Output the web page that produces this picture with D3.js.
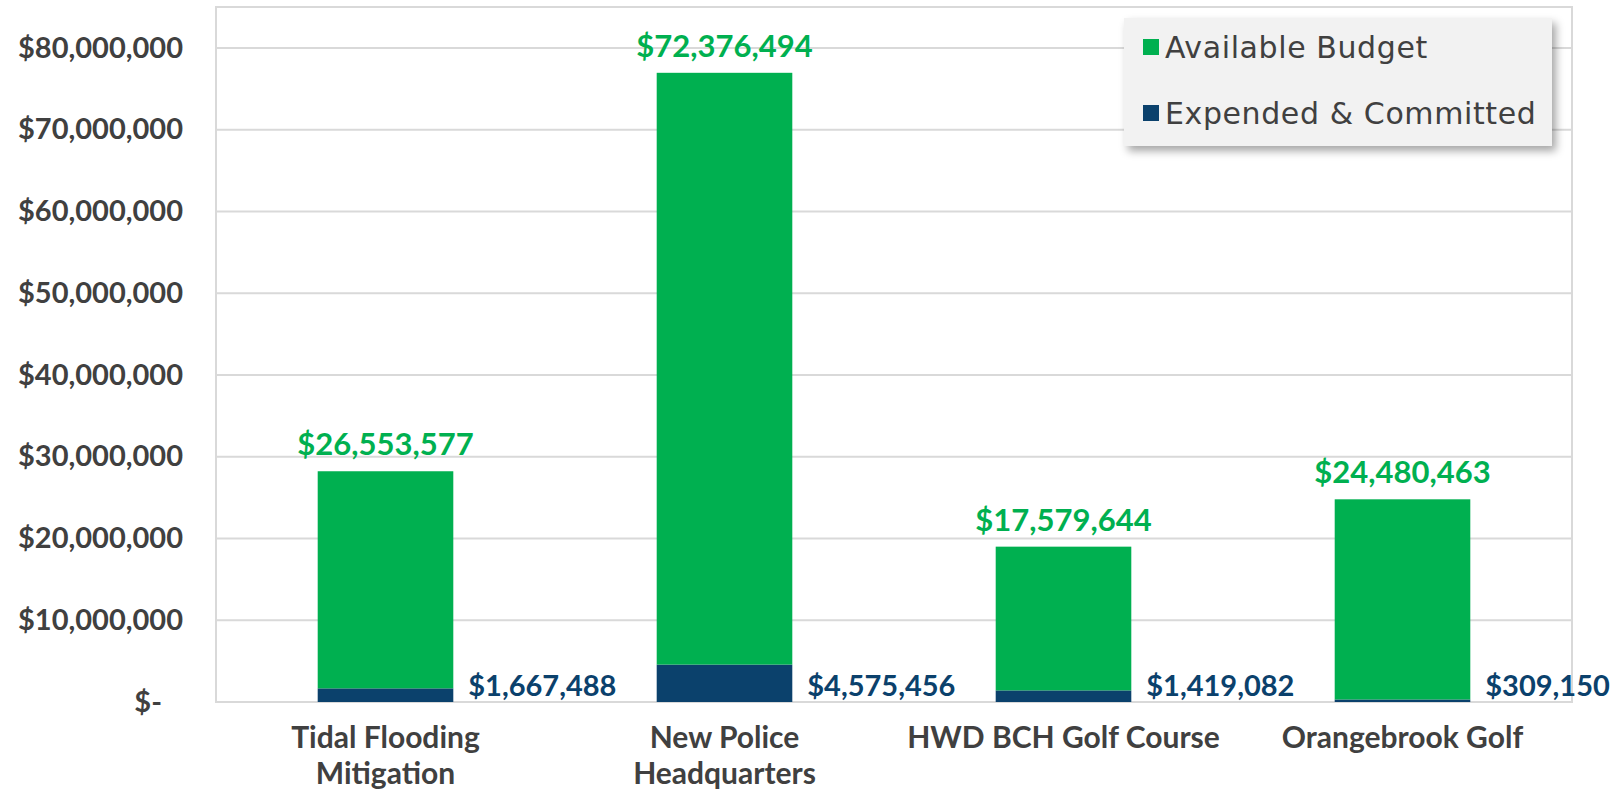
<!DOCTYPE html>
<meta charset="utf-8">
<style>
  body { margin: 0; background: #fff; }
  text { font-family: Lato, "DejaVu Sans", sans-serif; }
</style>
<svg width="1612" height="793"></svg>
<script src="https://d3js.org/d3.v7.min.js"></script>
<script>
// data
var projects = ["Tidal Flooding|Mitigation", "New Police|Headquarters", "HWD BCH Golf Course", "Orangebrook Golf"];
var expended = [1667488, 4575456, 1419082, 309150];
var available = [26553577, 72376494, 17579644, 24480463];
var yTicks = [0, 10000000, 20000000, 30000000, 40000000, 50000000, 60000000, 70000000, 80000000];
var seriesNames = ["Available Budget", "Expended & Committed"];

var green = "#00b050", navy = "#0b416c", grey = "#404040", grid = "#d9d9d9";

var svg = d3.select("svg"),
    margin = {top: 7, right: 40, bottom: 91, left: 216},
    width = 1612 - margin.left - margin.right,
    height = 793 - margin.top - margin.bottom;

var g = svg.append("g").attr("transform", "translate(" + margin.left + "," + margin.top + ")");

var x = d3.scaleBand()
    .domain(projects)
    .range([0, width])
    .paddingInner(0.6)
    .paddingOuter(0.3);

var y = d3.scaleLinear()
    .domain([0, 85000000])
    .range([height, 0]);

// plot frame
g.append("rect")
    .attr("width", width).attr("height", height)
    .attr("fill", "none").attr("stroke", grid).attr("stroke-width", 2);

// gridlines
g.selectAll(".grid")
  .data(yTicks)
  .enter().append("line")
    .attr("x1", 0).attr("x2", width)
    .attr("y1", function(d) { return y(d); })
    .attr("y2", function(d) { return y(d); })
    .attr("stroke", grid).attr("stroke-width", 2);

// y axis
var yAxis = g.append("g")
    .call(d3.axisLeft(y)
      .tickValues(yTicks)
      .tickSize(0)
      .tickPadding(33)
      .tickFormat(function(d) { return d === 0 ? "$-" : "$" + d3.format(",")(d); }));
yAxis.select(".domain").remove();
yAxis.selectAll("text")
    .attr("fill", grey)
    .attr("font-size", "29px")
    .attr("font-weight", "bold")
    .attr("dx", function(d) { return d === 0 ? -21 : 0; });

// stacked bars
var rows = projects.map(function(p, i) { return {p: p, e: expended[i], a: available[i]}; });

g.selectAll(".exp")
  .data(rows)
  .enter().append("rect")
    .attr("x", function(d) { return x(d.p); })
    .attr("width", x.bandwidth())
    .attr("y", function(d) { return y(d.e); })
    .attr("height", function(d) { return y(0) - y(d.e); })
    .attr("fill", navy);

g.selectAll(".avail")
  .data(rows)
  .enter().append("rect")
    .attr("x", function(d) { return x(d.p); })
    .attr("width", x.bandwidth())
    .attr("y", function(d) { return y(d.e + d.a); })
    .attr("height", function(d) { return y(d.e) - y(d.e + d.a); })
    .attr("fill", green);

// value labels
g.selectAll(".alab")
  .data(rows)
  .enter().append("text")
    .attr("x", function(d) { return x(d.p) + x.bandwidth() / 2; })
    .attr("y", function(d) { return y(d.e + d.a) - 16; })
    .attr("text-anchor", "middle")
    .attr("fill", green)
    .attr("font-size", "31px")
    .attr("font-weight", "bold")
    .text(function(d) { return "$" + d3.format(",")(d.a); });

g.selectAll(".elab")
  .data(rows)
  .enter().append("text")
    .attr("x", function(d) { return x(d.p) + x.bandwidth() + 15; })
    .attr("y", y(0) - 6)
    .attr("fill", navy)
    .attr("font-size", "29px")
    .attr("font-weight", "bold")
    .text(function(d) { return "$" + d3.format(",")(d.e); });

// category labels
g.selectAll(".cat")
  .data(projects)
  .enter().append("text")
    .attr("x", function(d) { return x(d) + x.bandwidth() / 2; })
    .attr("y", height + 46)
    .attr("text-anchor", "middle")
    .attr("fill", grey)
    .attr("font-size", "30px")
    .attr("font-weight", "bold")
  .selectAll("tspan")
  .data(function(d) { return d.split("|"); })
  .enter().append("tspan")
    .attr("x", function() { var p = this.parentNode.__data__; return x(p) + x.bandwidth() / 2; })
    .attr("dy", function(d, i) { return i ? 36 : 0; })
    .text(function(d) { return d; });

// legend
var defs = svg.append("defs");
var f = defs.append("filter").attr("id", "shadow").attr("x", "-10%").attr("y", "-10%").attr("width", "130%").attr("height", "140%");
f.append("feDropShadow").attr("dx", 4).attr("dy", 5).attr("stdDeviation", 4).attr("flood-color", "#000").attr("flood-opacity", 0.35);

var legend = svg.append("g").attr("transform", "translate(1124,18)");
legend.append("rect")
    .attr("width", 428).attr("height", 128)
    .attr("fill", "#f2f2f2")
    .attr("filter", "url(#shadow)");

var li = legend.selectAll(".li")
  .data(seriesNames)
  .enter().append("g")
    .attr("transform", function(d, i) { return "translate(19," + (29 + i * 66) + ")"; });
li.append("rect")
    .attr("y", -8).attr("width", 16).attr("height", 16)
    .attr("fill", function(d, i) { return i ? navy : green; });
li.append("text")
    .attr("x", 22).attr("y", 11)
    .attr("fill", grey)
    .style("font-family", "'DejaVu Sans', sans-serif")
    .style("font-size", "30px")
    .style("letter-spacing", "0.6px")
    .text(function(d) { return d; });
</script>
